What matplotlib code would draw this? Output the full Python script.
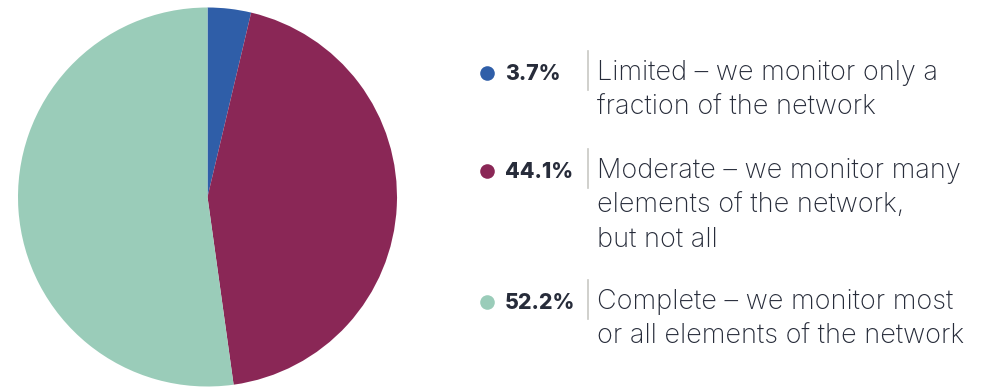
import matplotlib
matplotlib.use("Agg")
import matplotlib.pyplot as plt

# Monitoring coverage shares
categories = ["Limited", "Moderate", "Complete"]
shares = [3.7, 44.1, 52.2]
pct_labels = ["3.7%", "44.1%", "52.2%"]
descriptions = [
    ["Limited \u2013 we monitor only a", "fraction of the network"],
    ["Moderate \u2013 we monitor many", "elements of the network,", "but not all"],
    ["Complete \u2013 we monitor most", "or all elements of the network"],
]
colors = ["#2f5ea8", "#8a2756", "#9accb9"]
text_color = "#272c3a"

W, H = 989, 387
fig = plt.figure(figsize=(W / 100, H / 100), dpi=100)

# Pie: centre and radius in pixels
cx, cy, r = 207.5, 197, 189.5
ax = fig.add_axes([(cx - r) / W, (H - cy - r) / H, 2 * r / W, 2 * r / H])
ax.pie(shares, colors=colors, startangle=90, counterclock=False,
       wedgeprops=dict(linewidth=0))
ax.set_xlim(-1, 1)
ax.set_ylim(-1, 1)
ax.axis("off")

# Legend drawn in a pixel-space overlay
lg = fig.add_axes([0, 0, 1, 1])
lg.set_xlim(0, W)
lg.set_ylim(H, 0)
lg.axis("off")

row_top = [73, 171, 302]
line_gap = 34.5
font = "Inter"
for i in range(len(categories)):
    y0 = row_top[i]
    lg.plot(487, y0, "o", color=colors[i], markersize=10.5, markeredgewidth=0)
    lg.text(505, y0 + 1, pct_labels[i], fontsize=15.3, fontweight="heavy",
            color=text_color, va="center", ha="left", family=font)
    lg.plot([587.5, 587.5], [y0 - 22, y0 + 17], color="#c8c8c4", linewidth=1.2)
    for j, line in enumerate(descriptions[i]):
        lg.text(597, y0 + j * line_gap, line, fontsize=19.5, color=text_color,
                va="center", ha="left", family=font, fontweight="light")

fig.savefig("out.png", dpi=100, facecolor="white")
